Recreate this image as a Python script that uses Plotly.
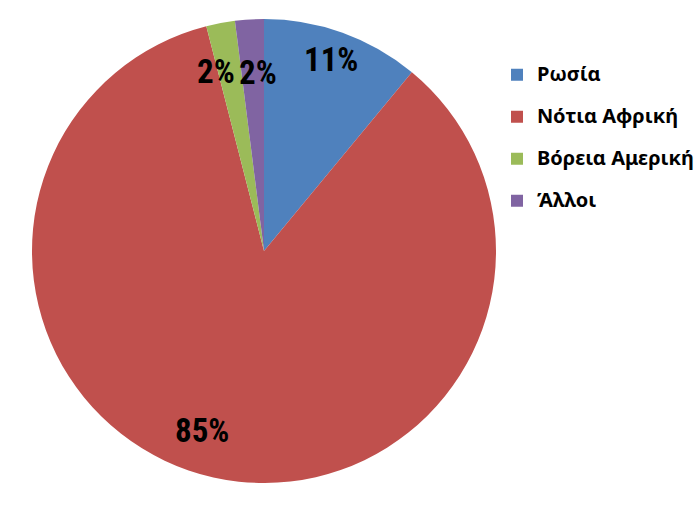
import math
import plotly.graph_objects as go

labels = ["Ρωσία", "Νότια Αφρική", "Βόρεια Αμερική", "Άλλοι"]
values = [11, 85, 2, 2]
colors = ["#4F81BD", "#C0504D", "#9BBB59", "#8064A2"]

W, H = 699, 512
CX, CY, R = 264, 251, 232

# legend text: empty first line + sized label so items get taller spacing
legend_text = [f"<br><span style='font-size:20px'>{l}</span>" for l in labels]

fig = go.Figure(go.Pie(
    labels=legend_text, values=values, sort=False, direction="clockwise", rotation=0,
    marker=dict(colors=colors, line=dict(width=0)),
    textinfo="none", hoverinfo="percent",
    domain=dict(x=[(CX - R) / W, (CX + R) / W], y=[(H - CY - R) / H, (H - CY + R) / H]),
))

# label placement: radial fraction and angular offset (deg) per slice
rfrac = [0.873, 0.82, 0.80, 0.77]
aoff = [-0.5, 6.5, -4.2, 1.7]
total = sum(values)
cum = 0
annotations = []
for i, v in enumerate(values):
    mid = (cum + v / 2) / total * 360 + aoff[i]
    cum += v
    rr = R * rfrac[i]
    px = CX + rr * math.sin(math.radians(mid))
    py = CY - rr * math.cos(math.radians(mid))
    annotations.append(dict(
        x=px / W, y=1 - py / H, xref="paper", yref="paper",
        text=f"{round(v / total * 100)}%", showarrow=False,
        font=dict(family="Liberation Sans Narrow, Roboto Condensed, DejaVu Sans Condensed, sans-serif",
                  size=33, color="black", weight="bold"),
        xanchor="center", yanchor="middle",
    ))

fig.update_layout(
    width=W, height=H, margin=dict(l=0, r=0, t=0, b=0),
    paper_bgcolor="white", plot_bgcolor="white",
    annotations=annotations,
    showlegend=True,
    legend=dict(x=497 / W, y=1 - 39 / H, xanchor="left", yanchor="top",
                font=dict(family="Noto Sans, sans-serif", size=15, color="black", weight="bold"),
                itemwidth=30, valign="bottom", tracegroupgap=0, bgcolor="rgba(0,0,0,0)"),
)
fig.write_html("out.html", config={"displayModeBar": False},
               post_script="document.body.style.margin='0';")
